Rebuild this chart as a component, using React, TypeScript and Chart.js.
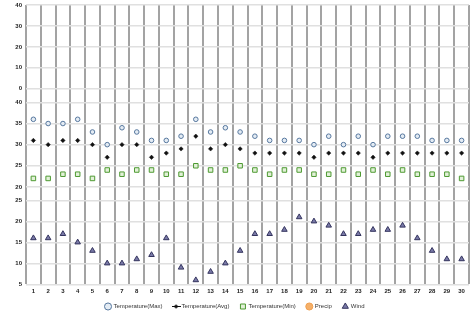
import React, { useEffect, useRef } from "react";
import { Chart, registerables } from "chart.js";

Chart.register(...registerables);

const days = ["1","2","3","4","5","6","7","8","9","10","11","12","13","14","15","16","17","18","19","20","21","22","23","24","25","26","27","28","29","30"];
const tempMax = [36,35,35,36,33,30,34,33,31,31,32,36,33,34,33,32,31,31,31,30,32,30,32,30,32,32,32,31,31,31];
const tempAvg = [31,30,31,31,30,27,30,30,27,28,29,32,29,30,29,28,28,28,28,27,28,28,28,27,28,28,28,28,28,28];
const tempMin = [22,22,23,23,22,24,23,24,24,23,23,25,24,24,25,24,23,24,24,23,23,24,23,24,23,24,23,23,23,22];
const precip: (number | null)[] = [null,null,null,null,null,null,null,null,null,null,null,null,null,null,null,null,null,null,null,null,null,null,null,null,null,null,null,null,null,null];
const wind = [16,16,17,15,13,10,10,11,12,16,9,6,8,10,13,17,17,18,21,20,19,17,17,18,18,19,16,13,11,11];

const precipTicks = [0, 10, 20, 30, 40];
const tempTicks = [20, 25, 30, 35, 40];
const windTicks = [5, 10, 15, 20, 25];

const FONT = "'Liberation Sans', Arial, sans-serif";

// Global fractions of the plot height (from top) occupied by each panel's visible range
const PANELS = [
  [0, 0.3],
  [0.3488, 0.6512],
  [0.6993, 1],
];

function avgLegendIcon() {
  const c = document.createElement("canvas");
  c.width = 9;
  c.height = 5;
  const g = c.getContext("2d")!;
  g.strokeStyle = "#111";
  g.lineWidth = 1;
  g.beginPath();
  g.moveTo(0, 2.5);
  g.lineTo(9, 2.5);
  g.stroke();
  g.fillStyle = "#111";
  g.beginPath();
  g.moveTo(4.5, 0.3);
  g.lineTo(6.7, 2.5);
  g.lineTo(4.5, 4.7);
  g.lineTo(2.3, 2.5);
  g.closePath();
  g.fill();
  return c;
}

export default function App() {
  const ref = useRef<HTMLCanvasElement>(null);

  useEffect(() => {
    if (!ref.current) return;
    const s1 = (PANELS[0][1] + PANELS[1][0]) / 2;
    const s2 = (PANELS[1][1] + PANELS[2][0]) / 2;
    const segs = [
      [0, s1],
      [s1, s2],
      [s2, 1],
    ];
    const ranges = [
      [0, 40],
      [20, 40],
      [5, 25],
    ];
    const axisRange = (i: number) => {
      const [a, b] = segs[i];
      const len = b - a;
      const fTop = (PANELS[i][0] - a) / len;
      const fBot = (PANELS[i][1] - a) / len;
      const [lo, hi] = ranges[i];
      const span = (hi - lo) / (fBot - fTop);
      return { min: lo - (1 - fBot) * span, max: hi + fTop * span, weight: len };
    };

    const yScale = (i: number, ticks: number[]) => {
      const r = axisRange(i);
      return {
        type: "linear" as const,
        position: "left" as const,
        stack: "panels",
        stackWeight: r.weight,
        min: r.min,
        max: r.max,
        afterBuildTicks: (s: any) => {
          s.ticks = ticks.map((v) => ({ value: v }));
        },
        afterFit: (s: any) => {
          s.width = 26;
          s.paddingTop = 0;
          s.paddingBottom = 0;
        },
        border: { display: false },
        grid: { color: "#e0e0e0", lineWidth: 1.5, drawTicks: false },
        ticks: {
          padding: 4,
          color: "#222",
          font: { family: FONT, size: 6, weight: "bold" as const },
        },
      };
    };

    const icon = avgLegendIcon();
    const spacer = "   ";
    const chart = new Chart(ref.current, {
      type: "line",
      data: {
        labels: days,
        datasets: [
          {
            label: "Temperature(Max)",
            data: tempMax,
            yAxisID: "yT",
            showLine: false,
            pointStyle: "circle",
            pointRadius: 2.3,
            pointBorderWidth: 1,
            borderColor: "#56779e",
            backgroundColor: "#e4ecf4",
          },
          {
            label: "Temperature(Avg)",
            data: tempAvg,
            yAxisID: "yT",
            showLine: false,
            pointStyle: "rectRot",
            pointRadius: 2.2,
            pointBorderWidth: 0.5,
            borderColor: "#111",
            backgroundColor: "#111",
          },
          {
            label: "Temperature(Min)",
            data: tempMin,
            yAxisID: "yT",
            showLine: false,
            pointStyle: "rect",
            pointRadius: 3.2,
            pointBorderWidth: 1,
            borderColor: "#4e9a32",
            backgroundColor: "#e2f1d8",
          },
          {
            label: "Precip",
            data: precip,
            yAxisID: "yP",
            showLine: false,
            pointStyle: "circle",
            pointRadius: 2.5,
            pointBorderWidth: 1,
            borderColor: "#f0a050",
            backgroundColor: "#f5b06a",
          },
          {
            label: "Wind",
            data: wind,
            yAxisID: "yW",
            showLine: false,
            pointStyle: "triangle",
            pointRadius: 3.2,
            pointBorderWidth: 1,
            borderColor: "#34345e",
            backgroundColor: "#7a7aa8",
          },
        ],
      },
      options: {
        responsive: false,
        animation: false,
        layout: { padding: { top: 4.5, right: 4, left: 0, bottom: -3.5 } },
        scales: {
          x: {
            type: "category",
            offset: true,
            border: { display: false },
            grid: { offset: true, color: "#a3a3a3", lineWidth: 2, drawTicks: false },
            ticks: {
              padding: 3,
              autoSkip: false,
              maxRotation: 0,
              color: "#222",
              font: { family: FONT, size: 6, weight: "bold" },
            },
          },
          // stacked axes are placed bottom-up in definition order
          yW: yScale(2, windTicks),
          yT: yScale(1, tempTicks),
          yP: yScale(0, precipTicks),
        },
        plugins: {
          tooltip: { enabled: false },
          legend: {
            position: "bottom",
            labels: {
              usePointStyle: true,
              boxWidth: 5,
              boxHeight: 5,
              padding: 6,
              color: "#333",
              font: { family: FONT, size: 6 },
              generateLabels: (c: any) => {
                const items = (Chart.defaults.plugins.legend.labels as any).generateLabels(c);
                return items.map((it: any, i: number) => {
                  const out = i < items.length - 1 ? { ...it, text: it.text + spacer } : { ...it };
                  if (i === 1) out.pointStyle = icon;
                  return out;
                });
              },
            },
          },
        },
      },
    } as any);
    return () => chart.destroy();
  }, []);

  return (
    <div style={{ position: "absolute", left: 0, top: 0, width: 474, height: 316, background: "#fff" }}>
      <canvas ref={ref} width={474} height={316} />
    </div>
  );
}
